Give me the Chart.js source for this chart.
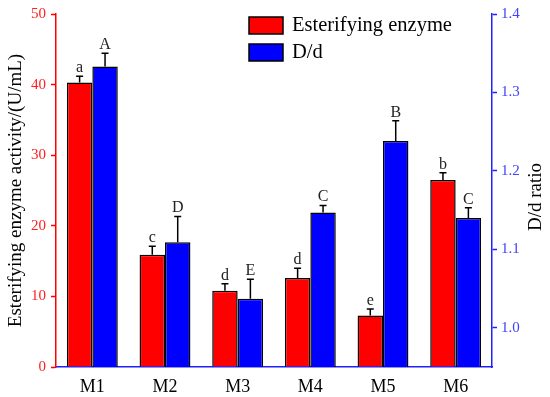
<!DOCTYPE html>
<html>
<head>
<meta charset="utf-8">
<script src="https://cdn.jsdelivr.net/npm/chart.js@4"></script>
<style>
  html, body { margin: 0; padding: 0; background: #fff; }
  #wrap { width: 550px; height: 397px; }
</style>
</head>
<body>
<div id="wrap"><canvas id="chart" width="550" height="397"></canvas></div>
<script>
const samples = ["M1", "M2", "M3", "M4", "M5", "M6"];
const enzyme = [40.3, 15.9, 10.8, 12.6, 7.3, 26.5];
const enzymeErr = [0.9, 1.2, 1.0, 1.4, 0.9, 1.0];
const enzymeLetters = ["a", "c", "d", "d", "e", "b"];
const ratio = [1.333, 1.109, 1.037, 1.147, 1.238, 1.14];
const ratioErr = [0.017, 0.033, 0.025, 0.009, 0.026, 0.013];
const ratioLetters = ["A", "D", "E", "C", "B", "C"];
const enzymeTicks = [0, 10, 20, 30, 40, 50];
const ratioTicks = [1.0, 1.1, 1.2, 1.3, 1.4];

const serif = "'Liberation Serif', 'Times New Roman', serif";

// error bars + significance letters
const errorBars = {
    id: "errorBars",
    afterDatasetsDraw(chart) {
        const ctx = chart.ctx;
        const sets = [
            { idx: 0, err: enzymeErr, letters: enzymeLetters },
            { idx: 1, err: ratioErr, letters: ratioLetters }
        ];
        ctx.save();
        sets.forEach(s => {
            const meta = chart.getDatasetMeta(s.idx);
            const scale = chart.scales[meta.yAxisID];
            const values = chart.data.datasets[s.idx].data;
            meta.data.forEach((bar, i) => {
                const x = bar.x;
                const yTop = bar.y;
                const yErr = scale.getPixelForValue(values[i] + s.err[i]);
                ctx.strokeStyle = "#000";
                ctx.lineWidth = 1.5;
                ctx.beginPath();
                ctx.moveTo(x, yTop);
                ctx.lineTo(x, yErr);
                ctx.moveTo(x - 3.5, yErr);
                ctx.lineTo(x + 3.5, yErr);
                ctx.stroke();
                ctx.fillStyle = "#222";
                ctx.font = "16px " + serif;
                ctx.textAlign = "center";
                ctx.textBaseline = "alphabetic";
                ctx.fillText(s.letters[i], x, yErr - 4);
            });
        });
        ctx.restore();
    }
};

// legend box in the top right + right axis title
const extras = {
    id: "extras",
    afterDraw(chart) {
        const ctx = chart.ctx;
        const area = chart.chartArea;
        ctx.save();
        chart.data.datasets.forEach((ds, i) => {
            const bx = area.right - 243;
            const by = 17 + i * 27;
            ctx.fillStyle = ds.backgroundColor;
            ctx.fillRect(bx, by, 34, 17);
            ctx.strokeStyle = "#000";
            ctx.lineWidth = 1.5;
            ctx.strokeRect(bx, by, 34, 17);
            ctx.fillStyle = "#000";
            ctx.font = "20.5px " + serif;
            ctx.textAlign = "left";
            ctx.textBaseline = "middle";
            ctx.fillText(ds.label, bx + 43, by + 9);
        });
        ctx.translate(536, 197);
        ctx.rotate(-Math.PI / 2);
        ctx.font = "19px " + serif;
        ctx.textAlign = "center";
        ctx.textBaseline = "middle";
        ctx.fillStyle = "#000";
        ctx.fillText("D/d ratio", 0, 0);
        ctx.restore();
    }
};

new Chart(document.getElementById("chart"), {
    type: "bar",
    data: {
        labels: samples,
        datasets: [
            {
                label: "Esterifying enzyme",
                data: enzyme,
                yAxisID: "y",
                backgroundColor: "#ff0000",
                borderColor: "#000",
                borderWidth: 1.5,
                categoryPercentage: 0.7,
                barPercentage: 1.0
            },
            {
                label: "D/d",
                data: ratio,
                yAxisID: "y1",
                backgroundColor: "#0000ff",
                borderColor: "#000",
                borderWidth: 1.5,
                categoryPercentage: 0.7,
                barPercentage: 1.0
            }
        ]
    },
    options: {
        responsive: false,
        animation: false,
        layout: { padding: { top: 14, left: 0, right: 0, bottom: 0 } },
        plugins: {
            legend: { display: false },
            tooltip: { enabled: false }
        },
        scales: {
            x: {
                grid: { display: false },
                border: { color: "#2020ff", width: 1.5 },
                ticks: { color: "#000", font: { family: serif, size: 18, lineHeight: 1 }, padding: 3 },
                afterFit(scale) { scale.height = 30; }
            },
            y: {
                position: "left",
                min: 0,
                max: 50,
                afterBuildTicks(scale) { scale.ticks = enzymeTicks.map(v => ({ value: v })); },
                grid: { drawOnChartArea: false, color: "red", tickLength: 5, tickWidth: 1.5 },
                border: { color: "red", width: 1.5 },
                ticks: { color: "#ff2020", font: { family: serif, size: 15 }, padding: 5 },
                title: {
                    display: true,
                    text: "Esterifying enzyme activity/(U/mL)",
                    color: "#000",
                    font: { family: serif, size: 19 },
                    padding: { top: 5, bottom: 0 }
                },
                afterFit(scale) { scale.width = 56; }
            },
            y1: {
                position: "right",
                min: 0.95,
                max: 1.4,
                afterBuildTicks(scale) { scale.ticks = ratioTicks.map(v => ({ value: v })); },
                grid: { drawOnChartArea: false, color: "#2020ff", tickLength: 5, tickWidth: 1.5 },
                border: { color: "#2020ff", width: 1.5 },
                ticks: {
                    color: "#4040ff",
                    font: { family: serif, size: 15 },
                    padding: 4,
                    callback: v => v.toFixed(1)
                },
                afterFit(scale) { scale.width = 58; }
            }
        }
    },
    plugins: [errorBars, extras]
});
</script>
</body>
</html>
